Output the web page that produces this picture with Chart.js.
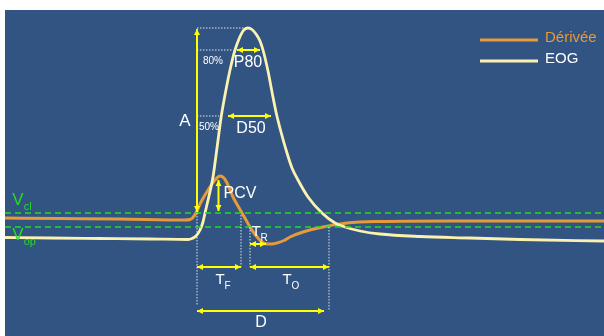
<!DOCTYPE html>
<html>
<head>
<meta charset="utf-8">
<script src="https://cdn.jsdelivr.net/npm/chart.js@4.4.1/dist/chart.umd.min.js"></script>
<style>
  html, body { margin: 0; padding: 0; background: #325482; overflow: hidden; }
  #wrap { width: 604px; height: 336px; }
  canvas { display: block; }
</style>
</head>
<body>
<div id="wrap"><canvas id="eogChart" width="604" height="336"></canvas></div>
<script>
// EOG : temps (ms) / amplitude (µV)
const eogT = [0, 45, 95, 145, 183, 187, 191, 195, 198, 200, 204, 208, 212, 216, 220, 225, 230, 234, 238, 241, 243,
              247, 251, 255, 258, 263, 267, 271, 276, 282, 287, 293, 303, 317, 330, 340, 355, 375, 415, 465, 515, 599];
const eogV = [2.5, 2, 1.5, 1, 0.5, 1.5, 4, 10, 18, 27, 44, 63, 92, 122, 145, 170, 190, 201, 209, 211.5, 212,
              210.5, 206, 199, 190, 169, 148, 128, 108, 87, 72, 60, 43, 27, 17, 13, 9, 6, 3.5, 2, 0.5, -1];

// Dérivée
const derT = [0, 55, 115, 180, 185, 188, 192, 195, 200, 205, 210, 215, 219, 222, 228, 233, 237, 241, 245, 249, 253,
              257, 262, 267, 272, 279, 285, 298, 318, 342, 375, 445, 599];
const derV = [22, 21.5, 21, 20, 20.5, 22.5, 29, 36, 45, 53, 60, 64, 62, 57, 43, 34, 27, 20, 13, 7, 2,
              -2, -4, -4, -3, -0.5, 3, 8, 13, 17, 18.5, 19, 19];

// seuils
const vCl = 27;
const vOp = 13;

// repères temporels (ms)
const tOnset = 192, tPcv = 213.5, tF = 236, tR = 245, tRmin = 261, tEnd = 319, tPeak = 240;
const p80 = { v: 190, t1: 232, t2: 255 };
const d50 = { v: 124, t1: 223, t2: 266 };

const BLUE = '#325482';
const ORANGE = '#E69A38';
const CREAM = '#FBF2B0';
const YELLOW = '#FFFF00';
const GREEN = '#22DD22';
const FONT = '"Liberation Sans", Arial, sans-serif';

const pts = (t, v) => t.map((x, i) => ({ x: x, y: v[i] }));

function arrow(ctx, x1, y1, x2, y2) {
  ctx.save();
  ctx.strokeStyle = YELLOW;
  ctx.fillStyle = YELLOW;
  ctx.lineWidth = 2;
  ctx.beginPath();
  ctx.moveTo(x1, y1);
  ctx.lineTo(x2, y2);
  ctx.stroke();
  const a = Math.atan2(y2 - y1, x2 - x1);
  [[x2, y2, a], [x1, y1, a + Math.PI]].forEach(([x, y, ang]) => {
    ctx.beginPath();
    ctx.moveTo(x, y);
    ctx.lineTo(x - 6 * Math.cos(ang) + 3 * Math.sin(ang), y - 6 * Math.sin(ang) - 3 * Math.cos(ang));
    ctx.lineTo(x - 6 * Math.cos(ang) - 3 * Math.sin(ang), y - 6 * Math.sin(ang) + 3 * Math.cos(ang));
    ctx.closePath();
    ctx.fill();
  });
  ctx.restore();
}

function dotted(ctx, x1, y1, x2, y2) {
  ctx.save();
  ctx.strokeStyle = 'rgba(255,255,255,0.85)';
  ctx.lineWidth = 1;
  ctx.setLineDash([1.5, 1.5]);
  ctx.beginPath();
  ctx.moveTo(x1, y1);
  ctx.lineTo(x2, y2);
  ctx.stroke();
  ctx.restore();
}

function label(ctx, txt, sub, x, y, size, color) {
  ctx.save();
  ctx.fillStyle = color;
  ctx.textBaseline = 'middle';
  ctx.font = size + 'px ' + FONT;
  const w = ctx.measureText(txt).width;
  ctx.textAlign = 'left';
  ctx.fillText(txt, x - w / 2, y);
  if (sub) {
    ctx.font = Math.round(size * 0.66) + 'px ' + FONT;
    ctx.fillText(sub, x + w / 2, y + size * 0.42);
  }
  ctx.restore();
}

// fond : marge blanche en haut et à gauche, bleu ailleurs
const bgPlugin = {
  id: 'bg',
  beforeDraw(chart) {
    const ctx = chart.ctx;
    ctx.save();
    ctx.fillStyle = '#FFFFFF';
    ctx.fillRect(0, 0, chart.width, 10);
    ctx.fillRect(0, 0, 5, chart.height);
    ctx.fillStyle = BLUE;
    ctx.fillRect(5, 10, chart.width - 5, chart.height - 10);
    ctx.restore();
  }
};

const notesPlugin = {
  id: 'notes',
  afterDatasetsDraw(chart) {
    const ctx = chart.ctx;
    const X = v => chart.scales.x.getPixelForValue(v);
    const Y = v => chart.scales.y.getPixelForValue(v);
    const peak = Math.max(...eogV);
    const derMax = Math.max(...derV);

    // pointillés
    dotted(ctx, X(tOnset), Y(peak), X(tPeak + 2), Y(peak));
    dotted(ctx, X(tOnset), Y(p80.v), X(228), Y(p80.v));
    dotted(ctx, X(tOnset), Y(d50.v), X(214), Y(d50.v));
    dotted(ctx, X(tOnset), Y(vCl), X(tOnset), Y(-65));
    dotted(ctx, X(tF), Y(vCl - 2), X(tF), Y(-27));
    dotted(ctx, X(tR), Y(vOp), X(tR), Y(-27));
    dotted(ctx, X(tEnd + 5), Y(vOp), X(tEnd + 5), Y(-70));

    // flèches
    arrow(ctx, X(tOnset), Y(vCl + 1), X(tOnset), Y(peak - 1));
    arrow(ctx, X(p80.t1), Y(p80.v), X(p80.t2), Y(p80.v));
    arrow(ctx, X(d50.t1), Y(d50.v), X(d50.t2), Y(d50.v));
    arrow(ctx, X(tPcv), Y(vCl + 2), X(tPcv), Y(derMax - 4));
    arrow(ctx, X(tR), Y(-4), X(tRmin), Y(-4));
    arrow(ctx, X(tOnset), Y(-27), X(tF), Y(-27));
    arrow(ctx, X(tR), Y(-27), X(tEnd + 5), Y(-27));
    arrow(ctx, X(tOnset), Y(-71), X(tEnd), Y(-71));

    // textes
    const W = '#FFFFFF';
    label(ctx, 'A', null, X(180), Y(119), 17, W);
    label(ctx, '80%', null, X(208), Y(179), 10, W);
    label(ctx, '50%', null, X(204), Y(113), 10, W);
    label(ctx, 'P80', null, X(243), Y(177), 16, W);
    label(ctx, 'D50', null, X(246), Y(111), 16, W);
    label(ctx, 'PCV', null, X(235), Y(46), 16, W);
    label(ctx, 'T', 'R', X(251), Y(8), 15, W);
    label(ctx, 'T', 'F', X(215), Y(-40), 15, W);
    label(ctx, 'T', 'O', X(282), Y(-40), 15, W);
    label(ctx, 'D', null, X(256), Y(-83), 16, W);
    label(ctx, 'V', 'cl', X(13), Y(40), 17, GREEN);
    label(ctx, 'V', 'op', X(13), Y(5), 17, GREEN);

    // légende
    const ds = chart.data.datasets;
    [[ds[0], 40, ORANGE], [ds[1], 61, W]].forEach(([d, y, tc]) => {
      ctx.save();
      ctx.strokeStyle = d.borderColor;
      ctx.lineWidth = 3;
      ctx.beginPath();
      ctx.moveTo(480, y);
      ctx.lineTo(538, y);
      ctx.stroke();
      ctx.fillStyle = tc;
      ctx.font = '15px ' + FONT;
      ctx.textBaseline = 'middle';
      ctx.fillText(d.label, 545, y - 2);
      ctx.restore();
    });
  }
};

new Chart(document.getElementById('eogChart'), {
  type: 'scatter',
  data: {
    datasets: [
      { label: 'Dérivée', data: pts(derT, derV), showLine: true, borderColor: ORANGE, borderWidth: 3,
        pointRadius: 0, cubicInterpolationMode: 'monotone', order: 2 },
      { label: 'EOG', data: pts(eogT, eogV), showLine: true, borderColor: CREAM, borderWidth: 2.8,
        pointRadius: 0, cubicInterpolationMode: 'monotone', order: 1 },
      { label: 'Vcl', data: pts([0, 599], [vCl, vCl]), showLine: true, borderColor: GREEN, borderWidth: 1.5,
        borderDash: [6, 4], pointRadius: 0, order: 0 },
      { label: 'Vop', data: pts([0, 599], [vOp, vOp]), showLine: true, borderColor: GREEN, borderWidth: 1.5,
        borderDash: [6, 4], pointRadius: 0, order: 0 }
    ]
  },
  options: {
    responsive: false,
    animation: false,
    layout: { autoPadding: false, padding: { left: 5, top: 10, right: 0, bottom: 0 } },
    scales: {
      x: { type: 'linear', min: 0, max: 599, display: false },
      y: { min: -96, max: 230, display: false }
    },
    plugins: { legend: { display: false }, tooltip: { enabled: false } }
  },
  plugins: [bgPlugin, notesPlugin]
});
</script>
</body>
</html>
